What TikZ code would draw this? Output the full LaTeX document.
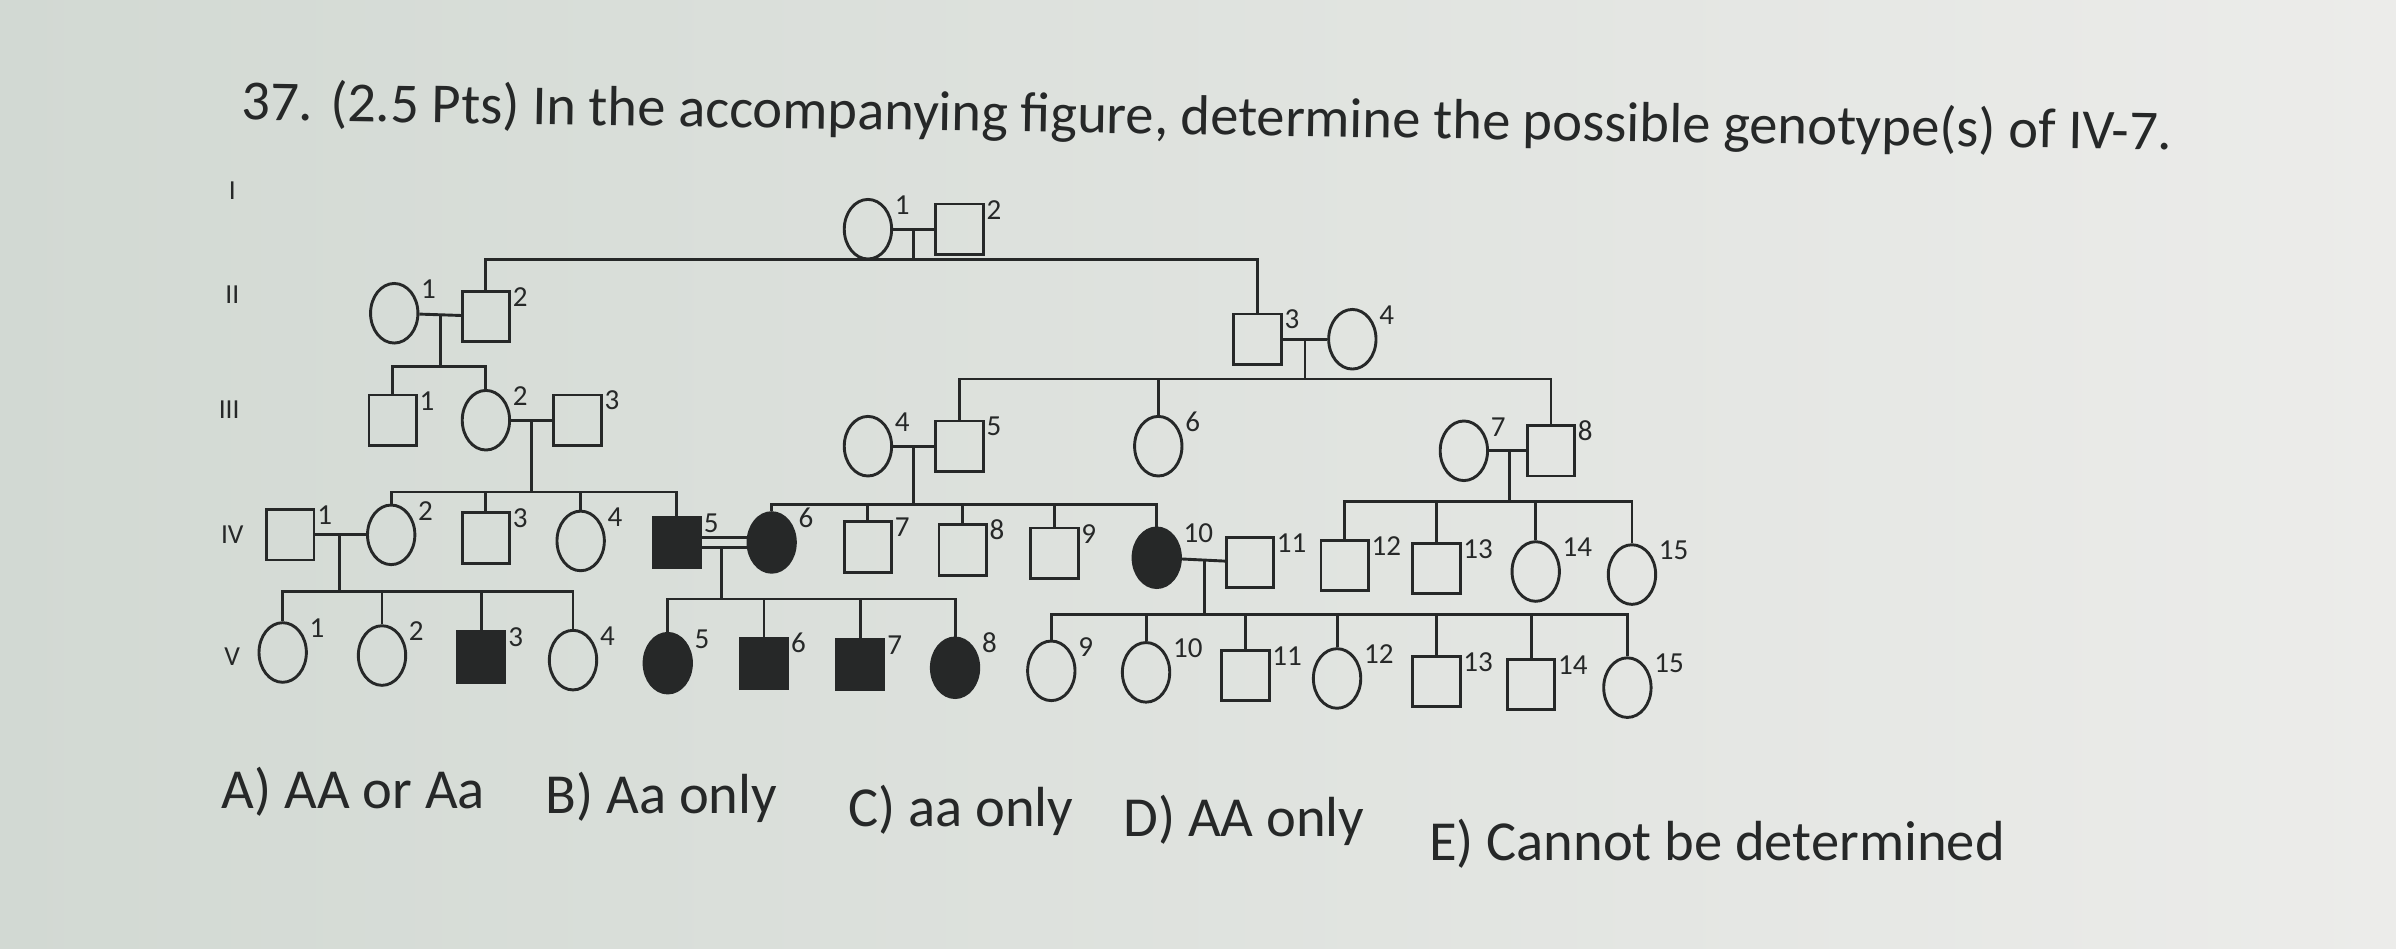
\documentclass[tikz,border=0pt]{standalone}
\usepackage{fontspec}
\setmainfont{Carlito}
\usetikzlibrary{shapes.geometric}
\begin{document}
\begin{tikzpicture}[x=1pt,y=-1pt,
  ln/.style={draw=ink,line width=1.9pt},
  sq/.style={ln,rectangle,minimum width=31pt,minimum height=33pt,inner sep=0pt},
  ci/.style={ln,ellipse,minimum width=31pt,minimum height=39pt,inner sep=0pt},
  aff/.style={fill=ink},
  num/.style={font=\fontsize{19}{19}\selectfont,text=ink,inner sep=1pt},
  gen/.style={font=\fontsize{18}{18}\selectfont,text=ink},
  big/.style={font=\fontsize{37}{38}\selectfont,text=ink,anchor=west,inner sep=0pt}]
\definecolor{ink}{RGB}{38,40,40}
\definecolor{bgl}{RGB}{210,217,211}
\definecolor{bgr}{RGB}{236,236,234}
\shade[left color=bgl,right color=bgr] (0,0) rectangle (1568,621);
\useasboundingbox (0,0) rectangle (1568,621);
% title
\node[big,rotate=-0.9] (title) at (158,68) {37. (2.5 Pts) In the accompanying figure, determine the possible genotype(s) of IV-7.};
% generation labels
\node[gen] (gI) at (152,125) {I};
\node[gen] (gII) at (152,193) {II};
\node[gen] (gIII) at (150,268) {III};
\node[gen] (gIV) at (152,350) {IV};
\node[gen] (gV) at (152,430) {V};
\newcommand{\pnode}[4]{\node[#1] (#2) at (#3) {}; \node[num,anchor=south west] (#2l) at ([xshift=0pt,yshift=-12pt]#2.east |- #2.north) {#4};}
% Generation I
\pnode{ci}{I1}{568,150}{1}
\pnode{sq}{I2}{628,150}{2}
% II
\pnode{ci}{II1}{258,205}{1}
\pnode{sq}{II2}{318,207}{2}
\pnode{sq}{II3}{823,222}{3}
\pnode{ci}{II4}{885,222}{4}
% III
\pnode{sq}{III1}{257,275}{1}
\pnode{ci}{III2}{318,275}{2}
\pnode{sq}{III3}{378,275}{3}
\pnode{ci}{III4}{568,292}{4}
\pnode{sq}{III5}{628,292}{5}
\pnode{ci}{III6}{758,292}{6}
\pnode{ci}{III7}{958,295}{7}
\pnode{sq}{III8}{1015,295}{8}
% IV
\pnode{sq}{IV1}{190,350}{1}
\pnode{ci}{IV2}{256,350}{2}
\pnode{sq}{IV3}{318,352}{3}
\pnode{ci}{IV4}{380,354}{4}
\pnode{sq,aff}{IV5}{443,355}{5}
\pnode{ci,aff}{IV6}{505,355}{6}
\pnode{sq}{IV7}{568,358}{7}
\pnode{sq}{IV8}{630,360}{8}
\pnode{sq}{IV9}{690,362}{9}
\pnode{ci,aff}{IV10}{757,365}{10}
\pnode{sq}{IV11}{818,368}{11}
\pnode{sq}{IV12}{880,370}{12}
\pnode{sq}{IV13}{940,372}{13}
\pnode{ci}{IV14}{1005,374}{14}
\pnode{ci}{IV15}{1068,376}{15}
% V
\pnode{ci}{V1}{185,427}{1}
\pnode{ci}{V2}{250,429}{2}
\pnode{sq,aff}{V3}{315,430}{3}
\pnode{ci}{V4}{375,432}{4}
\pnode{ci,aff}{V5}{437,434}{5}
\pnode{sq,aff}{V6}{500,434}{6}
\pnode{sq,aff}{V7}{563,435}{7}
\pnode{ci,aff}{V8}{625,437}{8}
\pnode{ci}{V9}{688,439}{9}
\pnode{ci}{V10}{750,440}{10}
\pnode{sq}{V11}{815,442}{11}
\pnode{ci}{V12}{875,444}{12}
\pnode{sq}{V13}{940,446}{13}
\pnode{sq}{V14}{1002,448}{14}
\pnode{ci}{V15}{1065,450}{15}
% matings
\draw[ln] (I1) -- (I2);
\draw[ln] (II1) -- (II2);
\draw[ln] (II3) -- (II4);
\draw[ln] (III2) -- (III3);
\draw[ln] (III4) -- (III5);
\draw[ln] (III7) -- (III8);
\draw[ln] (IV1) -- (IV2);
\draw[ln] ([yshift=-3.5pt]IV5.east) -- ([yshift=-3.5pt]IV6.west);
\draw[ln] ([yshift=3.5pt]IV5.east) -- ([yshift=3.5pt]IV6.west);
\draw[ln] (IV10) -- (IV11);
% descents and sibships
\coordinate (dI) at (598,150); \coordinate (sI) at (598,170);
\draw[ln] (dI) -- (sI);
\draw[ln] (II2.north) |- (sI) -| (II3.north);
\coordinate (dII) at (288,206); \coordinate (sII) at (288,240);
\draw[ln] (dII) -- (sII);
\draw[ln] (III1.north) |- (sII) -| (III2.north);
\coordinate (dII3) at (854,222); \coordinate (sII3) at (854,248);
\draw[ln] (dII3) -- (sII3);
\draw[ln] (III5.north) |- (sII3) -| (III8.north);
\draw[ln] (III6.north) -- (III6.north |- sII3);
\coordinate (dIII) at (348,275); \coordinate (sIII) at (348,322);
\draw[ln] (dIII) -- (sIII);
\draw[ln] (IV2.north) |- (sIII) -| (IV5.north);
\draw[ln] (IV3.north) -- (IV3.north |- sIII);
\draw[ln] (IV4.north) -- (IV4.north |- sIII);
\coordinate (dIII4) at (598,292); \coordinate (sIII4) at (598,330);
\draw[ln] (dIII4) -- (sIII4);
\draw[ln] (IV6.north) |- (sIII4) -| (IV10.north);
\draw[ln] (IV7.north) -- (IV7.north |- sIII4);
\draw[ln] (IV8.north) -- (IV8.north |- sIII4);
\draw[ln] (IV9.north) -- (IV9.north |- sIII4);
\coordinate (dIII7) at (988,295); \coordinate (sIII7) at (988,328);
\draw[ln] (dIII7) -- (sIII7);
\draw[ln] (IV12.north) |- (sIII7) -| (IV15.north);
\draw[ln] (IV13.north) -- (IV13.north |- sIII7);
\draw[ln] (IV14.north) -- (IV14.north |- sIII7);
\coordinate (dIV1) at (222,350); \coordinate (sIV1) at (222,387);
\draw[ln] (dIV1) -- (sIV1);
\draw[ln] (V1.north) |- (sIV1) -| (V4.north);
\draw[ln] (V2.north) -- (V2.north |- sIV1);
\draw[ln] (V3.north) -- (V3.north |- sIV1);
\coordinate (dIV5) at (472,358); \coordinate (sIV5) at (472,392);
\draw[ln] (dIV5) -- (sIV5);
\draw[ln] (V5.north) |- (sIV5) -| (V8.north);
\draw[ln] (V6.north) -- (V6.north |- sIV5);
\draw[ln] (V7.north) -- (V7.north |- sIV5);
\coordinate (dIV10) at (788,366); \coordinate (sIV10) at (788,402);
\draw[ln] (dIV10) -- (sIV10);
\draw[ln] (V9.north) |- (sIV10) -| (V15.north);
\foreach \v in {V10,V11,V12,V13,V14} \draw[ln] (\v.north) -- (\v.north |- sIV10);
% answers
\node[big] (ansA) at (145,518) {A) AA or Aa};
\node[big] (ansB) at (357,522) {B) Aa only};
\node[big] (ansC) at (555,530) {C) aa only};
\node[big] (ansD) at (735,537) {D) AA only};
\node[big] (ansE) at (935,552) {E) Cannot be determined};
\end{tikzpicture}
\end{document}
